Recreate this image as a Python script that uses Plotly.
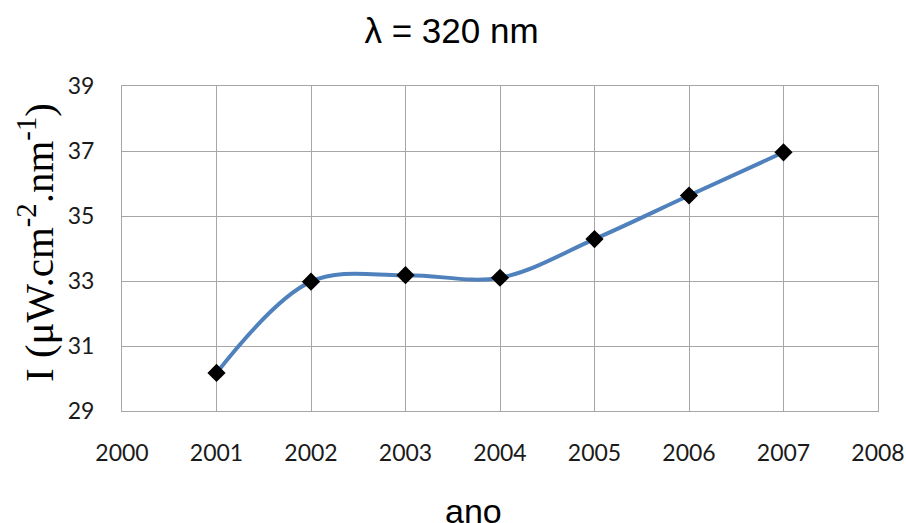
import plotly.graph_objects as go

years = [2001, 2002, 2003, 2004, 2005, 2006, 2007]
intensity = [30.17, 32.98, 33.18, 33.10, 34.29, 35.63, 36.96]
x_ticks = [2000, 2001, 2002, 2003, 2004, 2005, 2006, 2007, 2008]
y_ticks = [29, 31, 33, 35, 37, 39]

fig = go.Figure()
fig.add_trace(go.Scatter(
    x=years, y=intensity, mode="lines+markers",
    line=dict(color="#4F81BD", width=4, shape="spline", smoothing=1.0),
    marker=dict(symbol="diamond", color="black", size=14),
    showlegend=False,
))

grid = "#A6A6A6"
fig.update_layout(
    width=906, height=523,
    margin=dict(l=122, r=28, t=86, b=112, autoexpand=False),
    paper_bgcolor="white", plot_bgcolor="white",
    title=dict(text="λ = 320 nm", x=451.5 / 906, xanchor="center", xref="container",
               y=1 - 31 / 523, yanchor="middle", yref="container",
               font=dict(family="Liberation Sans, Arial", size=35, color="black")),
    font=dict(family="Lato, Open Sans, sans-serif", size=23, color="#1a1a1a"),
)
fig.update_xaxes(
    range=[2000, 2008], tickvals=x_ticks, ticktext=[str(v) for v in x_ticks],
    showgrid=True, gridcolor=grid, gridwidth=1,
    showline=True, linecolor=grid, linewidth=1, mirror=True,
    ticks="outside", ticklen=21, tickcolor="rgba(0,0,0,0)",
    zeroline=False, automargin=False,
)
fig.update_yaxes(
    range=[29, 39], tickvals=y_ticks, ticktext=[str(v) for v in y_ticks],
    showgrid=True, gridcolor=grid, gridwidth=1,
    showline=True, linecolor=grid, linewidth=1, mirror=True,
    ticks="outside", ticklen=22, tickcolor="rgba(0,0,0,0)",
    zeroline=False, automargin=False,
)
fig.add_annotation(
    text="ano", xref="paper", yref="paper", x=(473 - 122) / 756, y=(411 - 490) / 325,
    xanchor="center", yanchor="top", showarrow=False,
    font=dict(family="Liberation Sans, Arial", size=34, color="black"),
)
fig.add_annotation(
    text="I (μW.cm<sup>-2</sup>.nm<sup>-1</sup>)", xref="paper", yref="paper",
    x=(36 - 122) / 756, y=(411 - 243) / 325, textangle=-90,
    xanchor="center", yanchor="middle", showarrow=False,
    font=dict(family="Liberation Serif, Times New Roman, serif", size=41, color="black"),
)

fig.write_html("out.html", config={"displayModeBar": False},
               post_script="document.body.style.margin='0';document.body.style.overflow='hidden';")
